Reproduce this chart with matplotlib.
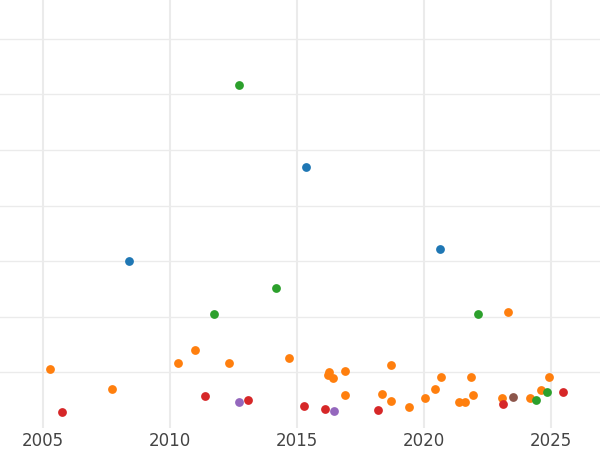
import matplotlib
matplotlib.use("Agg")
import matplotlib.pyplot as plt

blue_x = [2008.39, 2015.35, 2020.63]
blue_y = [3.00, 4.69, 3.22]
green_x = [2012.72, 2014.17, 2011.73, 2022.13, 2024.41, 2024.84]
green_y = [6.17, 2.52, 2.05, 2.05, 0.50, 0.65]
orange_x = [2005.28, 2007.72, 2010.31, 2010.98, 2012.32, 2014.69, 2016.26, 2016.22, 2016.42,
            2016.89, 2016.89, 2018.35, 2018.70, 2018.70, 2019.41, 2020.04, 2020.43, 2020.67,
            2021.38, 2021.61, 2021.85, 2021.93, 2023.07, 2023.31, 2024.17, 2024.61, 2024.92]
orange_y = [1.06, 0.70, 1.17, 1.40, 1.17, 1.26, 1.01, 0.95, 0.90,
            1.03, 0.59, 0.61, 1.13, 0.49, 0.38, 0.54, 0.70, 0.92,
            0.47, 0.47, 0.92, 0.59, 0.54, 2.09, 0.54, 0.68, 0.92]
red_x = [2005.75, 2011.38, 2013.07, 2015.28, 2016.10, 2018.19, 2023.11, 2025.47]
red_y = [0.29, 0.58, 0.50, 0.40, 0.34, 0.32, 0.43, 0.65]
purple_x = [2012.72, 2016.46]
purple_y = [0.47, 0.31]
brown_x = [2023.50]
brown_y = [0.56]

fig = plt.figure(figsize=(6, 4.5), dpi=100)
ax = fig.add_axes([0, 22/450, 1, 1 - 22/450])
ax.set_xlim(2003.3, 2026.93)
ax.set_ylim(0, 428/55.6)
for y in range(1, 8):
    ax.axhline(y, color="#ebebeb", lw=1, zorder=0)
for x in [2005, 2010, 2015, 2020, 2025]:
    ax.axvline(x, color="#ebebeb", lw=1.5, zorder=0)
series = [(orange_x, orange_y, "#ff7f0e"), (blue_x, blue_y, "#1f77b4"),
          (green_x, green_y, "#2ca02c"), (red_x, red_y, "#d62728"),
          (purple_x, purple_y, "#9467bd"), (brown_x, brown_y, "#8c564b")]
for xs, ys, c in series:
    ax.scatter(xs, ys, s=40, color=c, zorder=3, linewidths=0)
ax.set_xticks([2005, 2010, 2015, 2020, 2025])
ax.set_yticks([])
ax.tick_params(axis="x", length=0, labelsize=12, labelcolor="#444444", pad=3)
for s in ax.spines.values():
    s.set_visible(False)
fig.savefig("out.png", dpi=100)
